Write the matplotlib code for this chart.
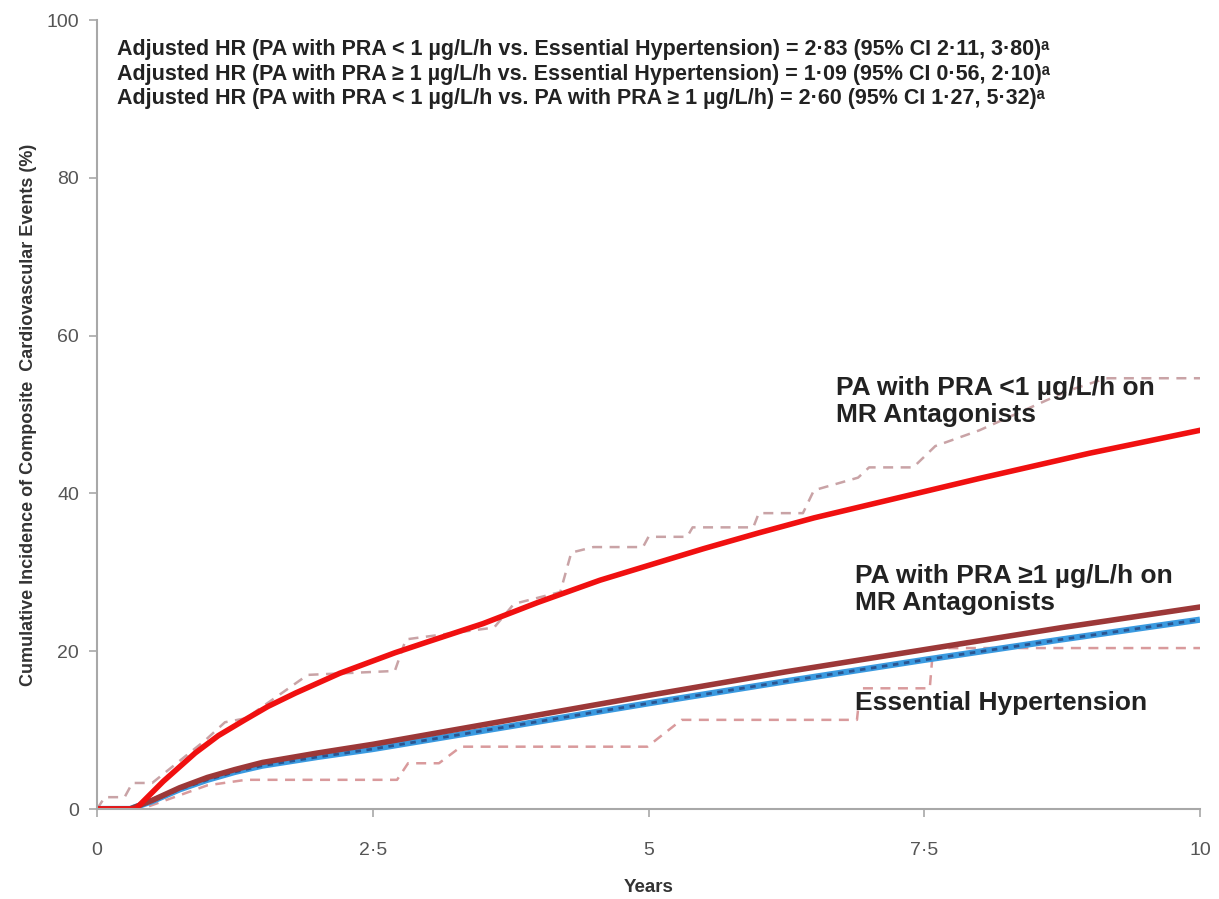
import matplotlib
matplotlib.use("Agg")
import matplotlib.pyplot as plt
from matplotlib.ticker import FuncFormatter

plt.rcParams['font.family'] = ['Liberation Sans', 'DejaVu Sans']

# smooth model curves (years, %)
red_t = [0, 0.35, 0.6, 0.89, 1.1, 1.34, 1.55, 1.8, 2.2, 2.7, 3.0, 3.5, 4.0, 4.56,
         5.17, 5.5, 6.0, 6.5, 7.28, 8.0, 8.5, 9.0, 10]
red_v = [0, 0, 3.5, 7.1, 9.3, 11.3, 13.0, 14.7, 17.2, 19.8, 21.2, 23.5, 26.2, 29.0,
         31.6, 33.0, 35.0, 36.9, 39.5, 41.9, 43.5, 45.1, 48.0]

brown_t = [0, 0.3, 0.5, 0.75, 1, 1.25, 1.5, 2.0, 2.5, 3.75, 5, 6.25, 7.5, 8.75, 10]
brown_v = [0, 0, 1.1, 2.7, 4.0, 5.0, 5.9, 7.1, 8.2, 11.3, 14.4, 17.4, 20.2, 23.0, 25.6]

blue_t = [0, 0.3, 0.5, 0.75, 1, 1.25, 1.5, 2.0, 2.5, 3.75, 5, 6.25, 7.5, 8.75, 10]
blue_v = [0, 0, 1.0, 2.5, 3.7, 4.7, 5.5, 6.6, 7.6, 10.5, 13.4, 16.2, 18.9, 21.5, 24.0]

# Kaplan-Meier style step curves (dashed)
km_low_t = [0, 0.07, 0.25, 0.32, 0.5, 0.98, 1.16, 1.35, 1.91, 2.7, 2.8, 3.6, 3.78, 4.2,
            4.3, 4.5, 4.95, 5.0, 5.35, 5.4, 5.95, 6.0, 6.4, 6.5, 6.9, 7.0, 7.4, 7.6,
            8.0, 8.4, 8.8, 9.15, 10]
km_low_v = [0, 1.5, 1.5, 3.3, 3.3, 8.7, 11.0, 11.5, 17.0, 17.5, 21.5, 23.0, 26.0, 27.5,
            32.5, 33.2, 33.2, 34.5, 34.5, 35.7, 35.7, 37.5, 37.5, 40.4, 42.0, 43.3, 43.3, 46.0,
            48.0, 50.5, 53.0, 54.6, 54.6]

km_high_t = [0, 0.4, 0.7, 1.0, 1.35, 2.72, 2.82, 3.1, 3.3, 4.99, 5.3, 6.89, 6.92, 7.55, 7.58, 10]
km_high_v = [0, 0, 1.5, 3.0, 3.7, 3.7, 5.8, 5.8, 7.9, 7.9, 11.3, 11.3, 15.3, 15.3, 20.4, 20.4]

hr_lines = [
    "Adjusted HR (PA with PRA < 1 µg/L/h vs. Essential Hypertension) = 2·83 (95% CI 2·11, 3·80)ᵃ",
    "Adjusted HR (PA with PRA ≥ 1 µg/L/h vs. Essential Hypertension) = 1·09 (95% CI 0·56, 2·10)ᵃ",
    "Adjusted HR (PA with PRA < 1 µg/L/h vs. PA with PRA ≥ 1 µg/L/h) = 2·60 (95% CI 1·27, 5·32)ᵃ",
]

fig = plt.figure(figsize=(12.19, 8.99), dpi=100)
ax = fig.add_axes([0.0796, 0.1001, 0.9048, 0.8776])

ax.plot(km_low_t, km_low_v, color='#c9a3a6', lw=1.8, ls=(0, (4, 3)))
ax.plot(km_high_t, km_high_v, color='#d99a9c', lw=1.8, ls=(0, (4, 3)))

ax.plot(blue_t, blue_v, color='#3a9ae0', lw=4.5, solid_capstyle='butt')
ax.plot(blue_t, blue_v, color='#2a5590', lw=2.0, ls=(0, (2, 2)))
ax.plot(brown_t, brown_v, color='#9c3838', lw=4)
ax.plot(red_t, red_v, color='#f01010', lw=4)

ax.set_xlim(0, 10)
ax.set_ylim(0, 100)
ax.set_xticks([0, 2.5, 5, 7.5, 10])
ax.set_yticks([0, 20, 40, 60, 80, 100])
ax.xaxis.set_major_formatter(FuncFormatter(lambda v, p: f"{v:g}".replace('.', '·')))

for s in ['top', 'right']:
    ax.spines[s].set_visible(False)
for s in ['left', 'bottom']:
    ax.spines[s].set_color('#a8a8a8')
    ax.spines[s].set_linewidth(1.5)
ax.tick_params(colors='#a8a8a8', labelcolor='#555555', labelsize=14, length=6, width=1.2)
ax.tick_params(axis='x', pad=18)
ax.tick_params(axis='y', pad=7)

ax.set_xlabel('Years', fontsize=13.5, fontweight='bold', color='#333333', labelpad=14)
ax.set_ylabel('Cumulative Incidence of Composite  Cardiovascular Events (%)',
              fontsize=13, fontweight='bold', color='#333333', labelpad=7)

for i, line in enumerate(hr_lines):
    ax.text(0.18, 96.3 - i * 3.15, line, fontsize=15.5, fontweight='bold',
            color='#222222', va='center', ha='left')

ax.text(6.7, 51.6, "PA with PRA <1 µg/L/h on\nMR Antagonists", fontsize=19,
        fontweight='bold', color='#222222', va='center', ha='left', linespacing=1.15)
ax.text(6.87, 27.8, "PA with PRA ≥1 µg/L/h on\nMR Antagonists", fontsize=19,
        fontweight='bold', color='#222222', va='center', ha='left', linespacing=1.15)
ax.text(6.87, 13.4, "Essential Hypertension", fontsize=19,
        fontweight='bold', color='#222222', va='center', ha='left')

fig.savefig('out.png', dpi=100)
